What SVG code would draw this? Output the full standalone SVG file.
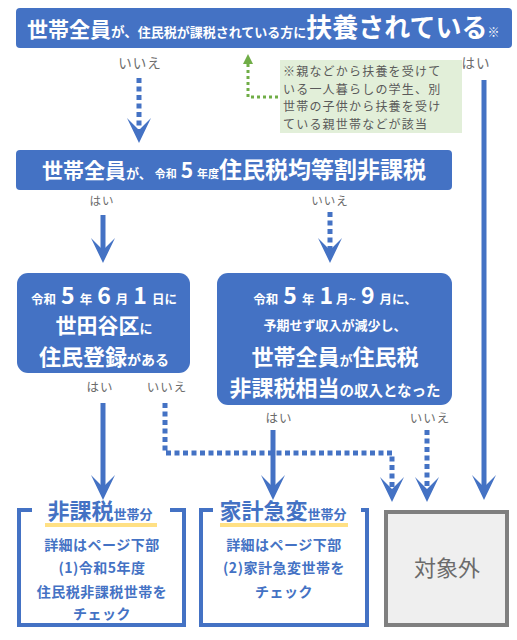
<svg xmlns="http://www.w3.org/2000/svg" width="517" height="640" viewBox="0 0 517 640">
<style>
text{font-family:"Noto Sans CJK JP","Noto Sans",sans-serif;}
.box{fill:#4472C4;}
.wt{fill:#fff;font-weight:bold;text-anchor:middle;}
.lbl{fill:#6b6b6b;font-size:12.5px;text-anchor:middle;letter-spacing:1px;}
.solid{stroke:#4472C4;stroke-width:5;fill:none;}
.dot{stroke:#4472C4;stroke-width:5;fill:none;stroke-dasharray:5 3.5;}
.brk{stroke:#4472C4;stroke-width:4;fill:none;}
.bt{fill:#4472C4;font-weight:bold;text-anchor:middle;font-size:14px;letter-spacing:0.5px;}
.hl{stroke:#FFD966;stroke-width:4;opacity:0.8;}
.nt{font-size:12px;fill:#5a5a5a;letter-spacing:1.2px;}
</style>
<defs>
<marker id="ah" markerUnits="userSpaceOnUse" viewBox="-15 -15 30 30" markerWidth="30" markerHeight="30" refX="0" refY="0" orient="auto" overflow="visible">
<path d="M12,0 L-13,-12 L-1,0 L-13,12 Z" fill="#4472C4"/>
</marker>
<marker id="gah" markerUnits="userSpaceOnUse" viewBox="-8 -8 16 16" markerWidth="16" markerHeight="16" refX="0" refY="0" orient="auto" overflow="visible">
<path d="M6,0 L-4,-5 L-4,5 Z" fill="#70AD47"/>
</marker>
</defs>

<g id="connectors">
<line class="dot" x1="139" y1="78" x2="139" y2="131" marker-end="url(#ah)"/>
<line class="solid" x1="484" y1="80" x2="484" y2="488" marker-end="url(#ah)"/>
<line class="solid" x1="103" y1="215" x2="103" y2="251" marker-end="url(#ah)"/>
<line class="dot" x1="330" y1="212" x2="330" y2="251" marker-end="url(#ah)"/>
<line class="solid" x1="103" y1="403" x2="103" y2="488" marker-end="url(#ah)"/>
<polyline class="dot" points="165,403 165,453 392,453 392,490" marker-end="url(#ah)"/>
<line class="solid" x1="273" y1="430" x2="273" y2="488" marker-end="url(#ah)"/>
<line class="dot" x1="427" y1="430" x2="427" y2="490" marker-end="url(#ah)"/>
<polyline points="278,97 248,97 248,60" fill="none" stroke="#70AD47" stroke-width="3" stroke-dasharray="3 3" marker-end="url(#gah)"/>
<g class="lbl">
<text x="140" y="68" font-size="13.5px">いいえ</text>
<text x="476" y="68" font-size="13.5px">はい</text>
<text x="102" y="205" font-size="11.5px">はい</text>
<text x="330" y="205" font-size="11.5px">いいえ</text>
<text x="100" y="392">はい</text>
<text x="167" y="392">いいえ</text>
<text x="279" y="423">はい</text>
<text x="430" y="423">いいえ</text>
</g>
</g>

<g id="q1">
<rect class="box" x="16" y="8" width="496" height="40" rx="4"/>
<text x="27" y="37" fill="#fff" font-weight="bold"><tspan font-size="21px">世帯全員</tspan><tspan font-size="13.5px">が、</tspan><tspan font-size="13px">住民税が課税されている方に</tspan><tspan font-size="26px">扶養されている</tspan><tspan font-size="12px">※</tspan></text>
</g>

<g id="note">
<rect x="280" y="60" width="182" height="73" fill="#E2EFD9"/>
<text class="nt" x="283" y="76">※親などから扶養を受けて</text>
<text class="nt" x="283" y="93.5">いる一人暮らしの学生、別</text>
<text class="nt" x="283" y="111">世帯の子供から扶養を受け</text>
<text class="nt" x="283" y="128.5">ている親世帯などが該当</text>
</g>

<g id="q2">
<rect class="box" x="16" y="150" width="436" height="40" rx="4"/>
<text x="234" y="178" class="wt"><tspan font-size="21px">世帯全員</tspan><tspan font-size="13px">が、</tspan><tspan font-size="11px" dx="3">令和</tspan><tspan font-size="21px" dx="4">5</tspan><tspan font-size="11px" dx="4">年度</tspan><tspan font-size="23px">住民税均等割非課税</tspan></text>
</g>

<g id="q3a">
<rect class="box" x="17" y="273" width="173" height="100" rx="11"/>
<text x="104" y="304" class="wt"><tspan font-size="12.5px">令和</tspan><tspan font-size="23px" dx="5">5</tspan><tspan font-size="12.5px" dx="5">年</tspan><tspan font-size="23px" dx="5">6</tspan><tspan font-size="12.5px" dx="5">月</tspan><tspan font-size="23px" dx="5">1</tspan><tspan font-size="12.5px" dx="5">日に</tspan></text>
<text x="104" y="333" class="wt"><tspan font-size="21px">世田谷区</tspan><tspan font-size="13px">に</tspan></text>
<text x="104" y="365" class="wt"><tspan font-size="22px">住民登録</tspan><tspan font-size="14px">がある</tspan></text>
</g>

<g id="q3b">
<rect class="box" x="217" y="273" width="235" height="132" rx="11"/>
<text x="335" y="304" class="wt"><tspan font-size="12.5px">令和</tspan><tspan font-size="23px" dx="5">5</tspan><tspan font-size="12.5px" dx="5">年</tspan><tspan font-size="23px" dx="5">1</tspan><tspan font-size="12.5px" dx="3">月~</tspan><tspan font-size="23px" dx="5">9</tspan><tspan font-size="12.5px" dx="5">月に、</tspan></text>
<text x="335" y="330" class="wt" font-size="13px">予期せず収入が減少し、</text>
<text x="335" y="365" class="wt"><tspan font-size="22px">世帯全員</tspan><tspan font-size="13px">が</tspan><tspan font-size="22px">住民税</tspan></text>
<text x="335" y="396" class="wt"><tspan font-size="22px">非課税相当</tspan><tspan font-size="14.5px">の収入となった</tspan></text>
</g>

<g id="r1">
<path class="brk" d="M32,510 H19 V625 H184 V510 H170"/>
<line class="hl" x1="45" y1="525" x2="157" y2="525"/>
<text x="100" y="519" fill="#4472C4" font-weight="bold" text-anchor="middle"><tspan font-size="22px">非課税</tspan><tspan font-size="13px">世帯分</tspan></text>
<text class="bt" x="102" y="550">詳細はページ下部</text>
<text class="bt" x="102" y="573">(1)令和5年度</text>
<text class="bt" x="102" y="597">住民税非課税世帯を</text>
<text class="bt" x="102" y="619">チェック</text>
</g>

<g id="r2">
<path class="brk" d="M213,510 H201 V625 H367 V510 H361"/>
<line class="hl" x1="220" y1="525" x2="348" y2="525"/>
<text x="283" y="519" fill="#4472C4" font-weight="bold" text-anchor="middle"><tspan font-size="22px">家計急変</tspan><tspan font-size="13px">世帯分</tspan></text>
<text class="bt" x="284" y="550">詳細はページ下部</text>
<text class="bt" x="284" y="573">(2)家計急変世帯を</text>
<text class="bt" x="284" y="597">チェック</text>
</g>

<g id="r3">
<rect x="386" y="512" width="121" height="113" fill="#EFEFEF" stroke="#7F7F7F" stroke-width="4"/>
<text x="447" y="576" fill="#6b6b6b" font-size="22px" text-anchor="middle">対象外</text>
</g>
</svg>
